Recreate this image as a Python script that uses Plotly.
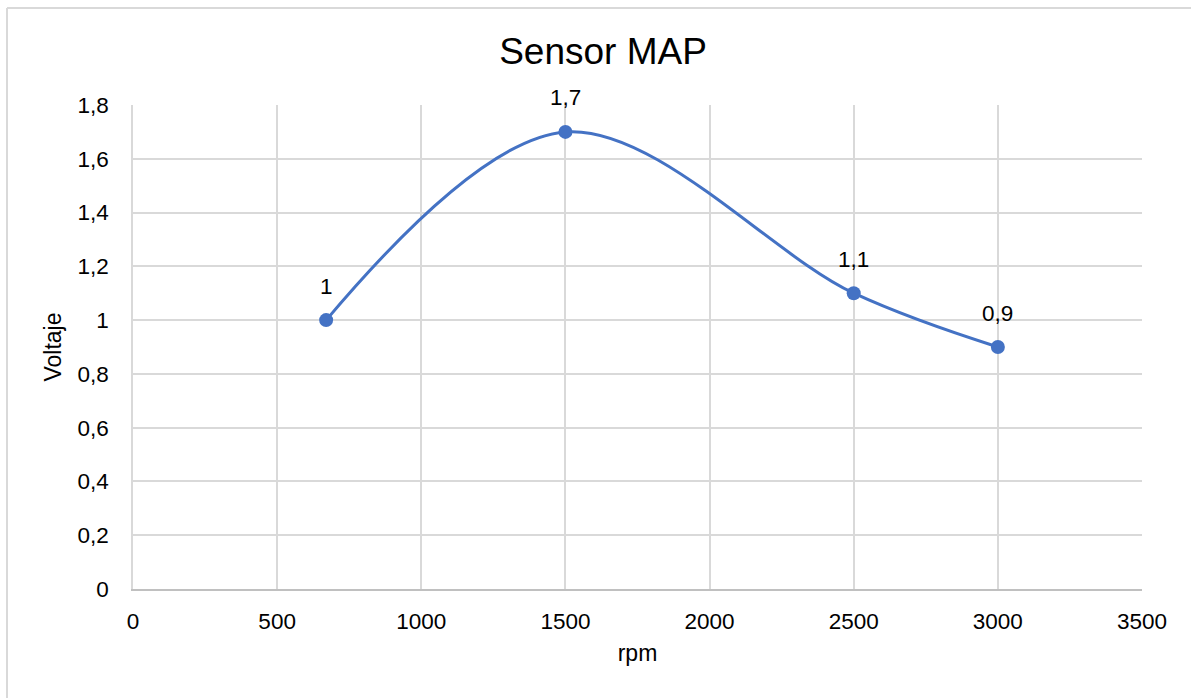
import plotly.graph_objects as go

# Sensor MAP readings: voltage versus engine speed
rpm = [670, 1500, 2500, 3000]
voltaje = [1.0, 1.7, 1.1, 0.9]
etiquetas = ["1", "1,7", "1,1", "0,9"]

x_ticks = [0, 500, 1000, 1500, 2000, 2500, 3000, 3500]
y_ticks = [0, 0.2, 0.4, 0.6, 0.8, 1.0, 1.2, 1.4, 1.6, 1.8]
y_tick_text = ["0", "0,2", "0,4", "0,6", "0,8", "1", "1,2", "1,4", "1,6", "1,8"]

W, H = 1191, 698
L, R, T, B = 133, 49, 105, 109
FONT = "Liberation Sans, Arial, sans-serif"
BLUE = "#4472C4"
GRID = "#d9d9d9"

fig = go.Figure()
fig.add_trace(go.Scatter(
    x=rpm, y=voltaje,
    mode="lines+markers",
    line=dict(color=BLUE, width=3, shape="spline", smoothing=1.0),
    marker=dict(color=BLUE, size=14),
    hoverinfo="x+y",
    showlegend=False,
))

# value labels above each point
for xv, yv, t in zip(rpm, voltaje, etiquetas):
    fig.add_annotation(x=xv, y=yv, text=t, showarrow=False,
                       yshift=34, font=dict(size=22.5, color="#000000", family=FONT))

# chart-area frame (left and top edges)
pw, ph = W - L - R, H - T - B
def px_x(p):
    return (p - L) / pw
def px_y(p):
    return (H - B - p) / ph
fig.add_shape(type="line", xref="paper", yref="paper",
              x0=px_x(7), x1=px_x(W + 5), y0=px_y(8), y1=px_y(8),
              line=dict(color=GRID, width=2))
fig.add_shape(type="line", xref="paper", yref="paper",
              x0=px_x(7), x1=px_x(7), y0=px_y(8), y1=px_y(H + 5),
              line=dict(color=GRID, width=2))

fig.update_layout(
    width=W, height=H,
    margin=dict(l=L, r=R, t=T, b=B),
    paper_bgcolor="white", plot_bgcolor="white",
    font=dict(family=FONT, color="#000000", size=22.5),
    title=dict(text="Sensor MAP", x=603 / W, xanchor="center",
               xref="container", yref="container", y=1 - 51 / H, yanchor="middle",
               font=dict(size=37, family=FONT, color="#000000")),
    xaxis=dict(
        range=[0, 3500], tickvals=x_ticks, ticktext=[str(v) for v in x_ticks],
        showgrid=True, gridcolor=GRID, gridwidth=1.5,
        zeroline=False, showline=True, linecolor="#c0c0c0", linewidth=1.5,
        ticks="", ticklabelstandoff=11,
        tickfont=dict(size=22.5, family=FONT, color="#000000"),
        title=dict(text="rpm", standoff=12, font=dict(size=23, family=FONT, color="#000000")),
        fixedrange=True,
    ),
    yaxis=dict(
        range=[0, 1.8], tickvals=y_ticks, ticktext=y_tick_text,
        showgrid=True, gridcolor=GRID, gridwidth=1.5,
        zeroline=False, showline=True, linecolor=GRID, linewidth=1.5,
        ticks="", ticklabelstandoff=18,
        tickfont=dict(size=22.5, family=FONT, color="#000000"),
        title=dict(text="Voltaje", standoff=9, font=dict(size=23, family=FONT, color="#000000")),
        fixedrange=True,
    ),
)

fig.write_html("out.html")
